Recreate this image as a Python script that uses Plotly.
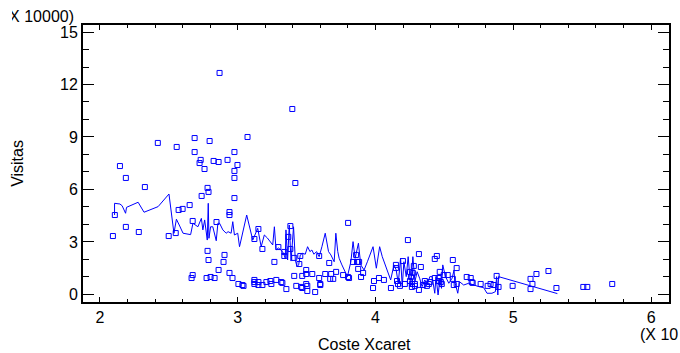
import plotly.graph_objects as go

# Scatter observations (Coste Xcaret in units of 10, Visitas in units of 10000)
coste = [2.868, 3.396, 2.42, 2.687, 2.557, 2.796, 3.071, 2.687, 2.976, 2.145,
         2.731, 2.723, 2.825, 2.861, 2.926, 2.998, 2.759, 2.976, 2.188, 2.976,
         2.326, 2.781, 2.788, 2.738, 2.976, 3.418, 2.571, 2.60, 2.651, 2.108,
         2.94, 2.94, 2.673, 2.846, 2.188, 2.282, 2.094, 2.499, 2.55, 2.781,
         2.788, 2.904, 2.897, 2.861, 2.673, 2.665, 2.94, 2.962, 2.774, 2.803,
         2.832, 3.005, 3.042, 3.801, 4.235, 3.15, 3.121, 3.179, 3.382, 3.367,
         3.382, 3.295, 3.338, 3.338, 3.41, 3.454, 3.447, 3.266, 3.591, 3.664,
         3.859, 3.866, 3.765, 3.801, 3.497, 3.497, 3.541, 3.41, 3.468, 3.591,
         3.635, 3.678, 3.671, 3.693, 3.714, 3.034, 3.121, 3.121, 3.121, 3.15,
         3.15, 3.179, 3.208, 3.237, 3.244, 3.28, 3.316, 3.324, 3.353, 3.425,
         3.461, 3.468, 3.497, 3.505, 3.599, 3.599, 3.505, 3.562, 3.837, 3.881,
         3.874, 3.91, 3.895, 3.808, 4.199, 4.315, 4.43, 4.445, 4.561, 4.278,
         4.329, 4.148, 4.148, 4.25, 4.257, 4.271, 4.589, 4.589, 4.466, 4.495,
         4.524, 4.43, 4.459, 4.459, 4.474, 4.481, 4.561, 4.568, 4.662, 3.989,
         4.025, 4.061, 3.982, 4.112, 4.156, 4.163, 4.177, 4.213, 4.25, 4.264,
         4.264, 4.286, 4.286, 4.315, 4.344, 4.358, 4.373, 4.387, 4.394, 4.691,
         4.698, 4.705, 4.763, 4.814, 4.835, 4.857, 4.879, 4.893, 4.995, 5.125,
         5.168, 5.255, 5.139, 5.125, 5.313, 5.508, 5.537, 5.718]
visitas = [12.66, 10.6, 8.66, 8.94, 8.43, 8.77, 9.0, 8.14, 8.14, 7.34,
           7.69, 7.51, 7.63, 7.57, 7.69, 7.4, 7.17, 7.06, 6.66, 6.66,
           6.14, 6.09, 5.86, 5.63, 5.51, 6.37, 4.83, 4.89, 5.11, 4.54,
           4.71, 4.54, 4.2, 4.14, 3.86, 3.57, 3.34, 3.34, 3.51, 2.49,
           1.97, 2.26, 1.86, 1.4, 1.11, 0.94, 1.23, 0.94, 0.94, 1.0,
           0.94, 0.6, 0.49, 4.09, 3.11, 3.74, 3.17, 2.6, 3.91, 3.29,
           2.6, 2.71, 2.43, 2.2, 2.09, 2.2, 1.74, 1.86, 2.2, 1.8,
           2.26, 1.86, 1.11, 1.0, 1.4, 1.17, 1.17, 1.06, 1.06, 0.94,
           1.17, 1.17, 0.89, 0.89, 1.29, 0.54, 0.83, 0.71, 0.6, 0.54,
           0.71, 0.54, 0.71, 0.77, 0.6, 0.83, 0.71, 0.66, 0.31, 0.49,
           0.43, 0.37, 0.6, 0.49, 0.6, 0.54, 0.2, 0.14, 1.86, 1.86,
           1.46, 1.23, 1.0, 0.94, 1.91, 2.31, 2.03, 2.2, 1.97, 1.63,
           1.57, 1.69, 1.51, 1.29, 1.0, 1.23, 1.51, 0.6, 1.29, 1.11,
           1.11, 0.94, 0.94, 0.77, 0.71, 0.6, 0.89, 0.54, 1.0, 0.77,
           0.94, 0.83, 0.37, 0.37, 0.77, 0.6, 0.49, 0.6, 0.77, 0.6,
           0.43, 0.6, 0.49, 0.26, 0.54, 0.77, 0.49, 0.6, 0.71, 0.94,
           0.71, 0.66, 0.6, 0.49, 0.6, 0.54, 1.06, 0.43, 0.49, 0.89,
           1.17, 1.34, 0.6, 0.31, 0.37, 0.43, 0.43, 0.6]

# Fitted / smoothed line
line_x = [2.106, 2.106, 2.145, 2.161, 2.186, 2.193, 2.277, 2.320, 2.422, 2.501,
          2.537, 2.555, 2.579, 2.603, 2.658, 2.675, 2.711, 2.736, 2.747, 2.760,
          2.779, 2.786, 2.791, 2.803, 2.819, 2.844, 2.856, 2.868, 2.892, 2.916,
          2.930, 2.952, 2.964, 2.976, 3.000, 3.013, 3.065, 3.109, 3.145, 3.170,
          3.193, 3.215, 3.254, 3.266, 3.278, 3.295, 3.314, 3.331, 3.345, 3.350,
          3.362, 3.374, 3.387, 3.405, 3.418, 3.430, 3.442, 3.454, 3.471, 3.490,
          3.507, 3.524, 3.538, 3.553, 3.572, 3.591, 3.611, 3.635, 3.659, 3.676,
          3.700, 3.712, 3.726, 3.736, 3.756, 3.779, 3.796, 3.821, 3.837, 3.852,
          3.876, 3.893, 3.917, 3.941, 3.982, 4.006, 4.030, 4.049, 4.078, 4.110,
          4.134, 4.150, 4.165, 4.182, 4.194, 4.206, 4.223, 4.237, 4.255, 4.271,
          4.286, 4.302, 4.320, 4.338, 4.358, 4.375, 4.394, 4.411, 4.430, 4.439,
          4.454, 4.467, 4.479, 4.488, 4.508, 4.532, 4.556, 4.570, 4.575, 4.597,
          4.609, 4.640, 4.676, 4.712, 4.749, 4.785, 4.809, 4.845, 4.870, 4.879,
          4.888, 4.893, 5.320]
line_y = [4.54, 5.21, 5.17, 5.07, 4.64, 4.98, 5.27, 4.70, 5.02, 5.74,
          3.50, 4.30, 3.91, 3.50, 3.42, 4.07, 3.87, 4.35, 3.69, 4.26,
          3.11, 5.21, 3.21, 3.87, 3.87, 3.07, 4.07, 4.07, 3.69, 3.50,
          3.59, 3.50, 4.16, 3.40, 3.50, 2.73, 4.54, 3.11, 3.78, 2.73,
          3.40, 3.23, 2.83, 3.87, 2.54, 2.66, 2.54, 2.37, 2.07, 3.69,
          1.97, 3.97, 1.91, 3.87, 1.97, 1.59, 1.69, 2.26, 2.35, 2.30,
          2.73, 2.45, 2.54, 2.30, 2.45, 2.16, 2.73, 3.50, 2.45, 2.26,
          1.87, 3.50, 2.45, 2.07, 1.69, 1.30, 1.02, 1.87, 3.02, 2.07,
          2.93, 1.69, 1.40, 1.87, 2.73, 1.50, 2.73, 2.16, 1.50, 0.83,
          1.69, 1.40, 0.64, 2.07, 0.45, 1.87, 1.02, 2.16, 0.45, 2.16,
          0.73, 1.30, 0.93, 0.45, 0.83, 0.54, 1.02, 1.02, 0.07, 1.02,
          -0.03, 0.83, 0.35, 1.69, 1.02, 0.64, 0.93, 1.40, 0.73, 0.07,
          0.73, 0.54, 0.64, 0.54, 0.45, 0.39, 0.07, 0.07, 0.16, 1.02,
          -0.03, 1.02, 0.05]

x_ticks = [2, 3, 4, 5, 6]
y_ticks = [0, 3, 6, 9, 12, 15]

BLUE = "#0000ff"
FONT = "Liberation Sans, Arial, sans-serif"

fig = go.Figure()
fig.add_trace(go.Scatter(x=line_x, y=line_y, mode="lines",
                         line=dict(color=BLUE, width=1), hoverinfo="skip"))
fig.add_trace(go.Scatter(x=coste, y=visitas, mode="markers",
                         marker=dict(symbol="square-open", size=5, color=BLUE,
                                     line=dict(width=1, color=BLUE))))

axis_common = dict(showgrid=False, zeroline=False, showline=True, linecolor="black",
                   linewidth=2, mirror="ticks", ticks="inside", tickcolor="black",
                   tickfont=dict(family=FONT, size=16, color="black"))

fig.update_xaxes(range=[1.877, 6.13], tickvals=x_ticks, ticklen=5, tickwidth=1,
                 minor=dict(ticks="inside", dtick=0.2, tick0=0, ticklen=3,
                            tickcolor="black", tickwidth=1),
                 **axis_common)
fig.update_yaxes(range=[-0.43, 15.4], tickvals=y_ticks, ticklen=11, tickwidth=1,
                 minor=dict(ticks="inside", dtick=1, tick0=0, ticklen=6,
                            tickcolor="black", tickwidth=1),
                 **axis_common)

fig.update_layout(
    width=680, height=353,
    margin=dict(l=83, r=9, t=25, b=51),
    plot_bgcolor="white", paper_bgcolor="white",
    showlegend=False,
    font=dict(family=FONT, size=16, color="black"),
    annotations=[
        dict(text="Visitas", xref="paper", yref="paper", x=-0.112, y=0.5,
             textangle=-90, showarrow=False, xanchor="center", yanchor="middle",
             font=dict(size=16)),
        dict(text="Coste Xcaret", xref="paper", yref="paper", x=0.48, y=-0.152,
             showarrow=False, xanchor="center", yanchor="middle", font=dict(size=16)),
        dict(text="(X 10000)", xref="paper", yref="paper", x=-0.0125, y=1.031,
             width=62, align="right",
             showarrow=False, xanchor="right", yanchor="middle", font=dict(size=16)),
        dict(text="(X 10", xref="paper", yref="paper", x=0.947, y=-0.117,
             showarrow=False, xanchor="left", yanchor="middle", font=dict(size=16)),
    ],
)

fig.write_html("out.html")
